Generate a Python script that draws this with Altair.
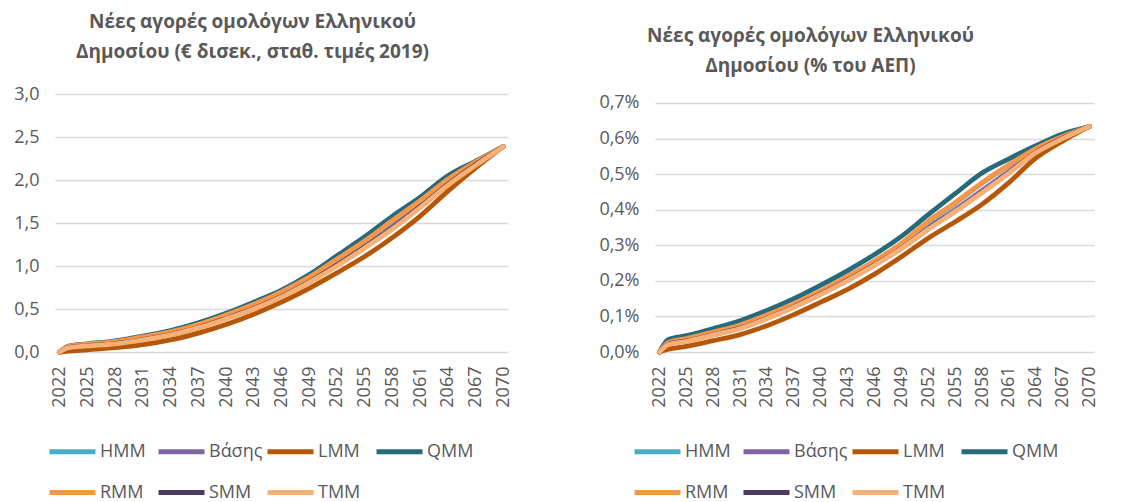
import altair as alt
import pandas as pd

years = [2022, 2023, 2025, 2028, 2031, 2034, 2037, 2040, 2043, 2046, 2049,
         2052, 2055, 2058, 2061, 2064, 2067, 2070]

series_names = ["HMM", "Βάσης", "LMM", "QMM", "RMM", "SMM", "TMM"]
series_colors = ["#4BACC6", "#8064A2", "#B65708", "#276A7C", "#F79646", "#4B3B62", "#F9B074"]

# Panel 1: € bn, constant 2019 prices
eur_hmm = [0, 0.064, 0.088, 0.118, 0.172, 0.232, 0.316, 0.425, 0.55, 0.695, 0.865, 1.07, 1.28, 1.52, 1.75, 2.00, 2.20, 2.39]
eur_base = [0, 0.06, 0.08, 0.11, 0.16, 0.22, 0.30, 0.41, 0.53, 0.67, 0.84, 1.04, 1.25, 1.48, 1.72, 1.98, 2.19, 2.39]
eur_lmm = [0, 0.01, 0.025, 0.05, 0.085, 0.14, 0.22, 0.32, 0.44, 0.58, 0.74, 0.92, 1.11, 1.33, 1.58, 1.87, 2.14, 2.39]
eur_qmm = [0, 0.07, 0.095, 0.13, 0.185, 0.25, 0.34, 0.45, 0.58, 0.72, 0.90, 1.12, 1.34, 1.58, 1.80, 2.05, 2.22, 2.39]
eur_rmm = [0, 0.065, 0.09, 0.12, 0.175, 0.235, 0.32, 0.43, 0.555, 0.70, 0.87, 1.08, 1.29, 1.53, 1.76, 2.01, 2.21, 2.39]
eur_smm = [0, 0.052, 0.072, 0.098, 0.143, 0.203, 0.283, 0.39, 0.505, 0.645, 0.815, 1.01, 1.22, 1.44, 1.69, 1.95, 2.18, 2.39]
eur_tmm = [0, 0.05, 0.07, 0.095, 0.14, 0.20, 0.28, 0.385, 0.50, 0.64, 0.81, 1.00, 1.21, 1.43, 1.68, 1.94, 2.17, 2.39]

# Panel 2: % of GDP
gdp_hmm = [0, 0.026, 0.037, 0.055, 0.075, 0.103, 0.135, 0.171, 0.212, 0.255, 0.304, 0.366, 0.418, 0.474, 0.525, 0.571, 0.606, 0.634]
gdp_base = [0, 0.024, 0.034, 0.052, 0.071, 0.099, 0.131, 0.167, 0.207, 0.250, 0.298, 0.355, 0.406, 0.460, 0.514, 0.566, 0.603, 0.634]
gdp_lmm = [0, 0.008, 0.016, 0.032, 0.049, 0.074, 0.105, 0.140, 0.176, 0.219, 0.268, 0.320, 0.366, 0.415, 0.476, 0.545, 0.593, 0.634]
gdp_qmm = [0, 0.035, 0.046, 0.066, 0.088, 0.117, 0.150, 0.188, 0.229, 0.274, 0.325, 0.386, 0.445, 0.503, 0.543, 0.580, 0.613, 0.634]
gdp_rmm = [0, 0.027, 0.038, 0.056, 0.076, 0.104, 0.136, 0.172, 0.213, 0.256, 0.305, 0.368, 0.420, 0.476, 0.526, 0.572, 0.606, 0.634]
gdp_smm = [0, 0.022, 0.031, 0.049, 0.067, 0.095, 0.127, 0.163, 0.202, 0.245, 0.292, 0.346, 0.396, 0.449, 0.504, 0.561, 0.601, 0.634]
gdp_tmm = [0, 0.021, 0.030, 0.048, 0.066, 0.094, 0.126, 0.162, 0.201, 0.244, 0.291, 0.345, 0.395, 0.448, 0.503, 0.560, 0.600, 0.634]

x_ticks = [2022, 2025, 2028, 2031, 2034, 2037, 2040, 2043, 2046, 2049, 2052, 2055, 2058, 2061, 2064, 2067, 2070]

title_left = ["Νέες αγορές ομολόγων Ελληνικού", "Δημοσίου (€ δισεκ., σταθ. τιμές 2019)"]
title_right = ["Νέες αγορές ομολόγων Ελληνικού", "Δημοσίου (% του ΑΕΠ)"]

FONT = "Open Sans"
TXT = "#595959"


def make_df(cols):
    rows = []
    for name, vals in zip(series_names, cols):
        for y, v in zip(years, vals):
            rows.append({"year": y, "series": name, "value": v})
    return pd.DataFrame(rows)


def panel(df, width, height, ydomain, yticks, ylabel_expr, title, title_dx,
          title_offset, legend_x):
    color = alt.Color(
        "series:N",
        scale=alt.Scale(domain=series_names, range=series_colors),
        sort=series_names,
        legend=alt.Legend(
            orient="none", legendX=legend_x, legendY=332, direction="horizontal",
            columns=4, title=None, symbolType="stroke", symbolSize=2116,
            symbolStrokeWidth=5, labelFont=FONT, labelFontSize=18, labelColor=TXT,
            labelOffset=2, columnPadding=-6, rowPadding=5, gridAlign="all",
            labelLimit=200,
        ),
    )
    x = alt.X(
        "year:Q",
        scale=alt.Scale(domain=[2021.5, 2070.5], nice=False, zero=False),
        axis=alt.Axis(values=x_ticks, labelAngle=-90, labelAlign="right",
                      labelBaseline="middle", format="d", domain=False, ticks=False,
                      grid=False, labelFont=FONT, labelFontSize=18, labelColor=TXT,
                      labelPadding=14, title=None, labelOverlap=False),
    )
    y = alt.Y(
        "value:Q",
        scale=alt.Scale(domain=ydomain, nice=False, zero=True),
        axis=alt.Axis(values=yticks, labelExpr=ylabel_expr, domain=False, ticks=False,
                      gridColor="#D9D9D9", gridWidth=1.5, labelFont=FONT,
                      labelFontSize=18, labelColor=TXT, labelPadding=16, title=None),
    )
    base = alt.Chart(df).encode(x=x, y=y, color=color)
    layers = []
    for name in series_names:
        sw = 1.3 if name == "Βάσης" else 4.8
        layers.append(
            base.transform_filter(alt.datum.series == name)
            .mark_line(strokeWidth=sw, interpolate="monotone", strokeCap="round",
                       strokeJoin="round")
        )
    return alt.layer(*layers).properties(
        width=width, height=height,
        title=alt.TitleParams(title, font=FONT, fontSize=19, fontWeight="bold",
                              color=TXT, anchor="middle", dx=title_dx,
                              lineHeight=30, offset=title_offset),
    )


left = panel(
    make_df([eur_hmm, eur_base, eur_lmm, eur_qmm, eur_rmm, eur_smm, eur_tmm]),
    453, 258, [0, 3.0], [0, 0.5, 1.0, 1.5, 2.0, 2.5, 3.0],
    "replace(format(datum.value, '.1f'), '.', ',')",
    title_left, -29, 23, -8,
)
right = panel(
    make_df([gdp_hmm, gdp_base, gdp_lmm, gdp_qmm, gdp_rmm, gdp_smm, gdp_tmm]),
    439, 258, [0, 0.7253], [0, 0.1, 0.2, 0.3, 0.4, 0.5, 0.6, 0.7],
    "replace(format(datum.value, '.1f'), '.', ',') + '%'",
    title_right, -64, 18, -23,
)

chart = (
    alt.hconcat(left, right, spacing=147, bounds="flush")
    .resolve_scale(color="independent")
    .configure_view(stroke=None)
    .properties(background="white")
)

chart.save("out.html", embed_options={"renderer": "svg", "actions": False})
